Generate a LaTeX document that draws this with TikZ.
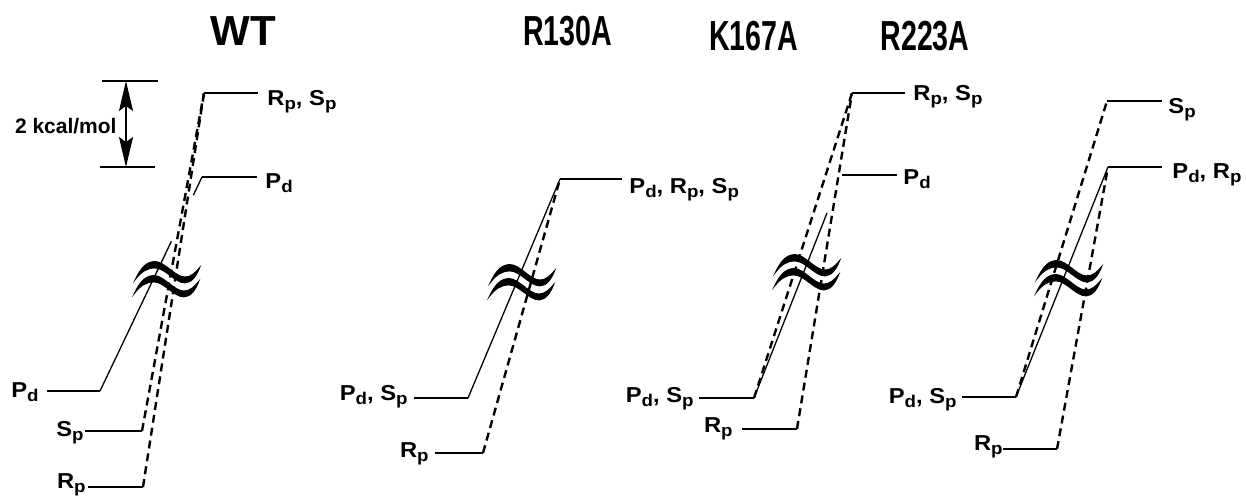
\documentclass[tikz,border=0pt]{standalone}
\usepackage{fontspec}
\setmainfont{Liberation Sans}
\newfontfamily\labfont{Liberation Sans}[FakeStretch=1.1]
\newfontfamily\ttlfont{Liberation Sans}[FakeStretch=0.68]
\usepackage{tikz}
\usetikzlibrary{arrows.meta, calc}
\newcommand{\lsub}[1]{\raisebox{-2.3pt}{\fontsize{8.5}{9}\selectfont #1}}

\begin{document}
\begin{tikzpicture}[
    x=0.5pt, y=-0.5pt,
    lvl/.style={line width=1pt},
    sol/.style={line width=0.65pt},
    dsh/.style={line width=1.2pt, dash pattern=on 4pt off 2.5pt},
    lab/.style={font=\labfont\bfseries\fontsize{10.8}{12}\selectfont, inner sep=0pt},
    ttl/.style={font=\bfseries\fontsize{21}{24}\selectfont, inner sep=0pt, anchor=base},
    mut/.style={ttl, font=\ttlfont\bfseries\fontsize{21}{24}\selectfont},
    brk/.pic={
        \foreach \dx/\dy in {0/0,-1/14} {
            \filldraw[line width=0.4pt, shift={(\dx,\dy)}] (0,0)
                .. controls (6,-13) and (12,-18.5) .. (20,-18.5)
                .. controls (30,-18.5) and (40,-3) .. (50,-3)
                .. controls (56,-3) and (61,-8) .. (65,-13)
                .. controls (62,-5) and (57,3) .. (50,3)
                .. controls (40,3) and (30,-12) .. (20,-12)
                .. controls (12,-12) and (6,-8) .. cycle;
        }
    }
]
\useasboundingbox (0,0) rectangle (1246,498);

% Titles
\node[ttl] (wt) at (243,45) {WT};
\node[mut] (r130) at (567.5,45) {R130A};
\node[mut] (k167) at (753.5,50) {K167A};
\node[mut] (r223) at (925,50) {R223A};

% Scale bar
\draw[lvl] (102,81) -- (158,81);
\draw[lvl] (100,167) -- (155,167);
\coordinate (barT) at (126,81);
\coordinate (barB) at (126,167);
\draw[line width=0.8pt, {Stealth[length=15pt,width=7pt,inset=2.5pt]}-{Stealth[length=15pt,width=7pt,inset=2.5pt]}] (barT) -- (barB);
\node[inner sep=0pt, anchor=base east, font=\bfseries\fontsize{10.5}{12}\selectfont] (kcal) at (117,133) {2 kcal/mol};

% WT levels
\coordinate (wtRS) at (204,93);
\draw[lvl] (wtRS) -- (258,93);
\node[lab, anchor=base west] (wtRSt) at (267,105) {R\lsub{p}, S\lsub{p}};
\coordinate (wtPdH) at (202,177);
\draw[lvl] (wtPdH) -- (257,177);
\node[lab, anchor=base west] (wtPdHt) at (265,188) {P\lsub{d}};
\coordinate (wtPdL) at (100,391);
\draw[lvl] (47,391) -- (wtPdL);
\node[lab, anchor=base east] (wtPdLt) at (39,397) {P\lsub{d}};
\coordinate (wtSp) at (142,431);
\draw[lvl] (85,431) -- (wtSp);
\node[lab, anchor=base east] (wtSpt) at (84,436) {S\lsub{p}};
\coordinate (wtRp) at (143,487);
\draw[lvl] (88,487) -- (wtRp);
\node[lab, anchor=base east] (wtRpt) at (86,488) {R\lsub{p}};

% WT connections
\draw[sol] (wtPdL) -- ($(wtPdL)!0.7!(wtPdH)$) ($(wtPdL)!0.915!(wtPdH)$) -- (wtPdH);
\draw[dsh] (wtSp) -- (wtRS);
\draw[dsh] (wtRp) -- (wtRS);
\pic at (135,280) {brk};

% R130A levels
\coordinate (rH) at (560,179);
\draw[lvl] (rH) -- (622,179);
\node[lab, anchor=base west] (rHt) at (629,193) {P\lsub{d}, R\lsub{p}, S\lsub{p}};
\coordinate (rPdS) at (468,398);
\draw[lvl] (414,398) -- (rPdS);
\node[lab, anchor=base east] (rPdSt) at (408,400) {P\lsub{d}, S\lsub{p}};
\coordinate (rRp) at (483,453);
\draw[lvl] (435,453) -- (rRp);
\node[lab, anchor=base east] (rRpt) at (429,457) {R\lsub{p}};

% R130A connections
\draw[sol] (rPdS) -- (rH);
\draw[dsh] (rRp) -- (rH);
\pic at (490,283) {brk};

% K167A levels
\coordinate (kRS) at (852,93);
\draw[lvl] (kRS) -- (905,93);
\node[lab, anchor=base west] (kRSt) at (913,100) {R\lsub{p}, S\lsub{p}};
\coordinate (kPdH) at (842,175);
\draw[lvl] (kPdH) -- (897,175);
\node[lab, anchor=base west] (kPdHt) at (903,184) {P\lsub{d}};
\coordinate (kPdS) at (754,398);
\draw[lvl] (699,398) -- (kPdS);
\node[lab, anchor=base east] (kPdSt) at (694,402) {P\lsub{d}, S\lsub{p}};
\coordinate (kRp) at (797,429);
\draw[lvl] (742,429) -- (kRp);
\node[lab, anchor=base east] (kRpt) at (733,432) {R\lsub{p}};

% K167A connections
\draw[sol] (kPdS) -- ($(kPdS)!0.83!(kPdH)$);
\draw[dsh] (kPdS) -- (kRS);
\draw[dsh] (kRp) -- (kRS);
\pic at (775,273) {brk};

% R223A levels
\coordinate (aSp) at (1107,101);
\draw[lvl] (aSp) -- (1162,101);
\node[lab, anchor=base west] (aSpt) at (1168,113) {S\lsub{p}};
\coordinate (aPdR) at (1108,167);
\draw[lvl] (aPdR) -- (1162,167);
\node[lab, anchor=base west] (aPdRt) at (1172,178) {P\lsub{d}, R\lsub{p}};
\coordinate (aPdS) at (1016,397);
\draw[lvl] (962,397) -- (aPdS);
\node[lab, anchor=base east] (aPdSt) at (957,403) {P\lsub{d}, S\lsub{p}};
\coordinate (aRp) at (1057,449);
\draw[lvl] (1003,449) -- (aRp);
\node[lab, anchor=base east] (aRpt) at (1003,450) {R\lsub{p}};

% R223A connections
\draw[sol] (aPdS) -- (aPdR);
\draw[dsh] (aPdS) -- (aSp);
\draw[dsh] (aRp) -- (aPdR);
\pic at (1037,279) {brk};

\end{tikzpicture}
\end{document}
